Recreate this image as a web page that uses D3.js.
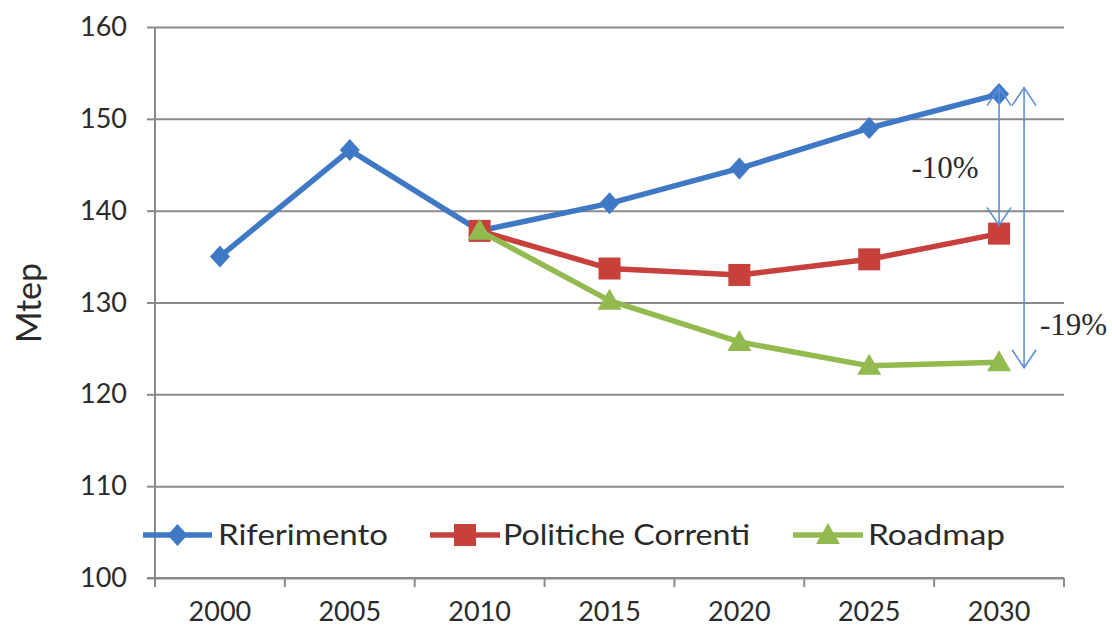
<!DOCTYPE html>
<html>
<head>
<meta charset="utf-8">
<script src="https://cdn.jsdelivr.net/npm/d3@7"></script>
<style>
  html, body { margin: 0; padding: 0; background: #ffffff; }
  svg { display: block; }
</style>
</head>
<body>
<svg id="chart" width="1112" height="629"></svg>
<script>
// ---------- DATA ----------
const years = ["2000", "2005", "2010", "2015", "2020", "2025", "2030"];
const yTicks = [100, 110, 120, 130, 140, 150, 160];
const riferimento = [135.0, 146.6, 137.8, 140.8, 144.6, 149.0, 152.7];
const politicheCorrenti = [null, null, 137.8, 133.7, 133.0, 134.7, 137.5];
const roadmap = [null, null, 137.8, 130.2, 125.7, 123.1, 123.5];
const seriesNames = ["Riferimento", "Politiche Correnti", "Roadmap"];
const yTitle = "Mtep";
// annotation arrows: year, from value, to value, label
const annotations = [
  { year: "2030", from: 153.4, to: 138.4, label: "-10%", offset: 0 },
  { year: "2030", from: 153.4, to: 122.9, label: "-19%", offset: 25 }
];

(function () {
// ---------- LAYOUT ----------
const svg = d3.select("#chart");
const pLeft = 155, pRight = 1064, pTop = 27, pBottom = 578;
const colors = ["#3f78c4", "#c8403c", "#93ba4f"];
const gridColor = "#8a8a8a";
const textColor = "#2a2a2a";
const font = "Lato, 'Open Sans', sans-serif";

const x = d3.scaleBand().domain(years).range([pLeft, pRight]).padding(0);
const xc = d => x(d) + x.bandwidth() / 2;
const y = d3.scaleLinear().domain([100, 160]).range([pBottom, pTop]);

const yAxis = d3.axisLeft(y).tickValues(yTicks).tickSize(8).tickPadding(20).tickFormat(d3.format("d"));
const yg = svg.append("g").attr("transform", `translate(${pLeft},0)`).call(yAxis);
yg.select(".domain").remove();
yg.selectAll(".tick line").attr("stroke", gridColor).attr("stroke-width", 2);
yg.selectAll(".tick text").attr("fill", textColor).style("font-family", font).style("font-size", "27px");

const grid = svg.append("g").attr("transform", `translate(${pLeft},0)`)
  .call(d3.axisRight(y).tickValues(yTicks).tickSize(pRight - pLeft).tickFormat(""));
grid.select(".domain").remove();
grid.selectAll(".tick line").attr("stroke", gridColor).attr("stroke-width", 2);

svg.append("line").attr("x1", pLeft).attr("x2", pLeft).attr("y1", pTop).attr("y2", pBottom + 9)
  .attr("stroke", gridColor).attr("stroke-width", 2);

const xb = svg.append("g").attr("transform", `translate(0,${pBottom})`);
xb.append("line").attr("x1", pLeft - 8).attr("x2", pRight).attr("stroke", gridColor).attr("stroke-width", 2);
xb.selectAll("line.tk").data(years).enter().append("line").attr("class", "tk")
  .attr("x1", d => x(d) + x.bandwidth()).attr("x2", d => x(d) + x.bandwidth())
  .attr("y1", 0).attr("y2", 9).attr("stroke", gridColor).attr("stroke-width", 2);
xb.selectAll("text").data(years).enter().append("text")
  .attr("x", d => xc(d)).attr("y", 43).attr("text-anchor", "middle")
  .attr("fill", textColor).style("font-family", font).style("font-size", "27px")
  .text(d => d);

svg.append("text").attr("transform", `translate(41,303) rotate(-90)`)
  .attr("text-anchor", "middle").attr("fill", textColor)
  .style("font-family", font).style("font-size", "34px").text(yTitle);

// ---------- SERIES ----------
const allSeries = [riferimento, politicheCorrenti, roadmap];
const line = d3.line().defined(d => d.v != null).x(d => xc(d.k)).y(d => y(d.v));

function marker(g, type, cx, cy, color) {
  if (type === 0) {
    g.append("path").attr("d", `M${cx},${cy - 11}L${cx + 10},${cy}L${cx},${cy + 11}L${cx - 10},${cy}Z`).attr("fill", color);
  } else if (type === 1) {
    g.append("rect").attr("x", cx - 11).attr("y", cy - 11).attr("width", 22).attr("height", 22).attr("fill", color);
  } else {
    g.append("path").attr("d", `M${cx},${cy - 12}L${cx + 12},${cy + 9}L${cx - 12},${cy + 9}Z`).attr("fill", color);
  }
}

allSeries.forEach((vals, i) => {
  const data = years.map((k, j) => ({ k, v: vals[j] }));
  const g = svg.append("g");
  g.append("path").datum(data).attr("d", line).attr("fill", "none")
    .attr("stroke", colors[i]).attr("stroke-width", 5.5).attr("stroke-linejoin", "round");
  data.filter(d => d.v != null).forEach(d => marker(g, i, xc(d.k), y(d.v), colors[i]));
});

// ---------- ANNOTATIONS ----------
const arrowColor = "#5b8fdc";
annotations.forEach((a) => {
  const ax = xc(a.year) + a.offset;
  const y1 = y(a.from), y2 = y(a.to);
  const g = svg.append("g").attr("stroke", arrowColor).attr("stroke-width", 1.6).attr("fill", "none");
  g.append("line").attr("x1", ax).attr("x2", ax).attr("y1", y1).attr("y2", y2);
  g.append("path").attr("d", `M${ax - 12},${y1 + 18}L${ax},${y1}L${ax + 12},${y1 + 18}`);
  g.append("path").attr("d", `M${ax - 12},${y2 - 18}L${ax},${y2}L${ax + 12},${y2 - 18}`);
});
svg.append("text").attr("x", 945).attr("y", 178).attr("text-anchor", "middle")
  .attr("fill", textColor).style("font-family", "'Liberation Serif', serif").style("font-size", "31px")
  .text(annotations[0].label);
svg.append("text").attr("x", 1040).attr("y", 335).attr("text-anchor", "start")
  .attr("fill", textColor).style("font-family", "'Liberation Serif', serif").style("font-size", "31px")
  .text(annotations[1].label);

// ---------- LEGEND ----------
const legendY = 535;
const legendItems = [
  { x0: 143, x1: 212, tx: 218, tw: 170 },
  { x0: 430, x1: 500, tx: 503, tw: 247 },
  { x0: 793, x1: 863, tx: 868, tw: 137 }
];
legendItems.forEach((it, i) => {
  const g = svg.append("g");
  g.append("line").attr("x1", it.x0).attr("x2", it.x1).attr("y1", legendY).attr("y2", legendY)
    .attr("stroke", colors[i]).attr("stroke-width", 5.5);
  marker(g, i, (it.x0 + it.x1) / 2, legendY, colors[i]);
  g.append("text").attr("x", it.tx).attr("y", legendY + 10)
    .attr("textLength", it.tw).attr("lengthAdjust", "spacingAndGlyphs")
    .attr("fill", textColor).style("font-family", font).style("font-size", "29px")
    .text(seriesNames[i]);
});
})();
</script>
</body>
</html>
